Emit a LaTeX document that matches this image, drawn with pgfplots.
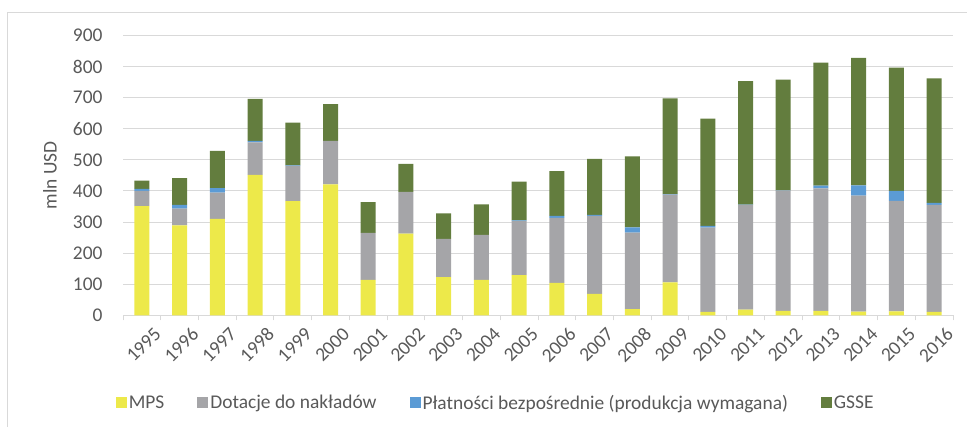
\documentclass[border=0pt]{standalone}
\usepackage{pgfplots}
\pgfplotsset{compat=1.18}
\usepackage{pgfplotstable}
\usepackage{fontspec}
\setmainfont{Carlito}
\definecolor{cyellow}{RGB}{237,233,74}
\definecolor{cgray}{RGB}{165,165,168}
\definecolor{cblue}{RGB}{91,155,213}
\definecolor{cgreen}{RGB}{99,125,62}
\definecolor{gridgray}{RGB}{217,217,217}
\definecolor{txtgray}{RGB}{89,89,89}
\pgfplotstableread{
x mps dot plat gsse
0 351 49 7 26
1 289 54 12 86
2 310 85 14 120
3 452 104 5 135
4 367 114 1 138
5 421 140 0 118
6 114 151 0 99
7 263 134 0 90
8 123 123 0 82
9 114 145 0 98
10 129 174 2 125
11 104 209 7 144
12 69 251 3 180
13 20 246 17 228
14 106 282 2 308
15 11 271 6 345
16 18 337 1 397
17 14 387 1 356
18 14 394 9 396
19 12 373 33 410
20 13 355 32 397
21 11 344 7 400
}\datatable
\newcommand{\ff}{\fontsize{19.5}{23}\selectfont}
\begin{document}
\begin{tikzpicture}
\path[use as bounding box] (0,0) rectangle (967bp,427bp);
\begin{scope}
\clip (0,0) rectangle (967bp,427bp);
\node[anchor=base, font=\fontsize{20}{24}\selectfont, inner sep=0] at (604bp,429.5bp) {(};
\node[anchor=base, font=\fontsize{20}{24}\selectfont, inner sep=0] at (731bp,429.5bp) {)};
\end{scope}
\draw[gridgray, line width=1bp] (7bp,0) -- (7bp,414.5bp) -- (967bp,414.5bp);
\begin{axis}[
  at={(123bp,111.7bp)}, anchor=south west,
  scale only axis, width=830bp, height=279.8bp,
  ybar stacked, bar width=15bp,
  xmin=-0.5, xmax=21.5, ymin=0, ymax=900,
  ytick={0,100,...,900},
  xtick={0,...,21},
  xticklabels={1995,1996,1997,1998,1999,2000,2001,2002,2003,2004,2005,2006,2007,2008,2009,2010,2011,2012,2013,2014,2015,2016},
  minor xtick={-0.5,0.5,...,21.5},
  major tick length=0pt, minor tick length=5bp, tick align=outside,
  minor x tick style={gridgray, line width=1bp},
  ymajorgrids, grid style={gridgray, line width=1bp},
  axis lines*=left,
  x axis line style={gridgray, line width=1bp},
  y axis line style={draw=none},
  /pgf/number format/assume math mode=true,
  yticklabel style={font=\ff, text=txtgray, xshift=-17bp},
  xticklabel style={font=\ff, text=txtgray, rotate=45, anchor=east, inner sep=0pt, xshift=0.4bp, yshift=-22bp},
  ylabel={mln USD}, ylabel style={font=\ff, text=txtgray, at={(axis description cs:-0.088,0.5)}, anchor=center},
  legend columns=4,
  legend style={draw=none, font=\ff, text=txtgray, at={(axis description cs:0.449,-0.313)}, anchor=center,
    /tikz/every even column/.append style={column sep=31bp},
    inner sep=0pt},
  legend cell align=left,
  every axis plot/.append style={draw=none},
]
\addplot[fill=cyellow, legend image code/.code={\fill[cyellow] (0bp,-5.5bp) rectangle (11bp,5.5bp);}] table[x=x,y=mps]{\datatable};
\addlegendentry{MPS}
\addplot[fill=cgray, legend image code/.code={\fill[cgray] (0bp,-5.5bp) rectangle (11bp,5.5bp);}] table[x=x,y=dot]{\datatable};
\addlegendentry{Dotacje do nakładów}
\addplot[fill=cblue, legend image code/.code={\fill[cblue] (0bp,-5.5bp) rectangle (11bp,5.5bp);}] table[x=x,y=plat]{\datatable};
\addlegendentry{Płatności bezpośrednie (produkcja wymagana)}
\addplot[fill=cgreen, legend image code/.code={\fill[cgreen] (0bp,-5.5bp) rectangle (11bp,5.5bp);}] table[x=x,y=gsse]{\datatable};
\addlegendentry{GSSE}
\end{axis}
\end{tikzpicture}
\end{document}
